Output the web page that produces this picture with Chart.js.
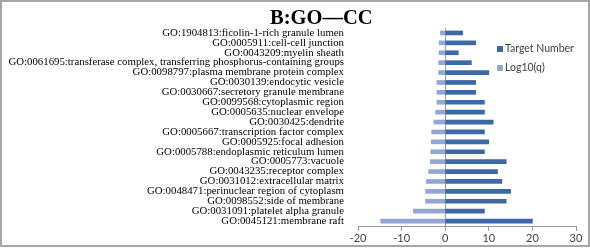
<!DOCTYPE html>
<html>
<head>
<meta charset="utf-8">
<script src="https://cdn.jsdelivr.net/npm/chart.js@4.4.1/dist/chart.umd.min.js"></script>
<style>
  html, body { margin: 0; padding: 0; background: #fff; }
  #wrap { width: 590px; height: 248px; position: relative; }
</style>
</head>
<body>
<div id="wrap"><canvas id="goChart"></canvas></div>
<script>
// termos GO (de cima para baixo)
const categories = [
    "GO:1904813:ficolin-1-rich granule lumen",
    "GO:0005911:cell-cell junction",
    "GO:0043209:myelin sheath",
    "GO:0061695:transferase complex, transferring phosphorus-containing groups",
    "GO:0098797:plasma membrane protein complex",
    "GO:0030139:endocytic vesicle",
    "GO:0030667:secretory granule membrane",
    "GO:0099568:cytoplasmic region",
    "GO:0005635:nuclear envelope",
    "GO:0030425:dendrite",
    "GO:0005667:transcription factor complex",
    "GO:0005925:focal adhesion",
    "GO:0005788:endoplasmic reticulum lumen",
    "GO:0005773:vacuole",
    "GO:0043235:receptor complex",
    "GO:0031012:extracellular matrix",
    "GO:0048471:perinuclear region of cytoplasm",
    "GO:0098552:side of membrane",
    "GO:0031091:platelet alpha granule",
    "GO:0045121:membrane raft"
];

const targetNumber = [4, 7, 3, 6, 10, 7, 7, 9, 9, 11, 9, 10, 9, 14, 12, 13, 15, 14, 9, 20];
const log10q = [-1.1, -1.4, -1.4, -1.5, -1.5, -1.9, -1.9, -1.9, -2.2, -2.6, -3.1, -3.2, -3.3, -3.4, -3.8, -4.3, -4.5, -4.5, -7.3, -14.8];

const xTicks = [-20, -10, 0, 10, 20, 30];

const darkBlue = 'rgb(60, 104, 166)';
const lightBlue = 'rgb(146, 167, 212)';

// título, legenda e moldura desenhados à mão
const decorPlugin = {
    id: 'decor',
    afterDraw(chart) {
        const ctx = chart.ctx;
        ctx.save();
        ctx.strokeStyle = '#a6a6a6';
        ctx.lineWidth = 2;
        ctx.strokeRect(1, 1, 588, 245);

        ctx.fillStyle = '#000';
        ctx.font = 'bold 20.5px "Liberation Serif", "Times New Roman", serif';
        ctx.textAlign = 'left';
        ctx.textBaseline = 'alphabetic';
        ctx.fillText('B:GO\u2014CC', 270, 24);

        const items = chart.data.datasets;
        ctx.font = '10.5px Lato, "Open Sans", sans-serif';
        ctx.textBaseline = 'middle';
        items.forEach((ds, i) => {
            const y = 49 + i * 19;
            ctx.fillStyle = ds.backgroundColor;
            ctx.fillRect(497, y - 3, 6, 6);
            ctx.fillStyle = '#404040';
            ctx.fillText(ds.label, 505, y);
        });
        ctx.restore();
    }
};

const ctx = document.getElementById('goChart').getContext('2d');
new Chart(ctx, {
    type: 'bar',
    data: {
        labels: categories,
        datasets: [
            { label: 'Target Number', data: targetNumber, backgroundColor: darkBlue, barThickness: 4 },
            { label: 'Log10(q)', data: log10q, backgroundColor: lightBlue, barThickness: 4 }
        ]
    },
    options: {
        indexAxis: 'y',
        responsive: true,
        maintainAspectRatio: false,
        animation: false,
        layout: { padding: { top: 28, right: 14, left: 0, bottom: 0 } },
        plugins: {
            legend: { display: false },
            title: { display: false },
            tooltip: { enabled: false }
        },
        scales: {
            x: {
                stacked: true,
                min: -20,
                max: 30,
                afterBuildTicks(scale) {
                    scale.ticks = xTicks.map(v => ({ value: v }));
                },
                afterFit(scale) { scale.height = 22; },
                grid: {
                    color: c => (c.tick && c.tick.value === 0) ? '#9a9a9a' : 'rgba(0,0,0,0)',
                    tickColor: '#9a9a9a',
                    tickLength: 5,
                    drawOnChartArea: true
                },
                border: { display: true, color: '#9a9a9a' },
                ticks: {
                    color: '#404040',
                    padding: 1,
                    font: { family: 'Lato, "Open Sans", sans-serif', size: 11 }
                }
            },
            y: {
                stacked: true,
                afterFit(scale) { scale.width = 358; },
                grid: { display: false },
                border: { display: false },
                ticks: {
                    color: '#000',
                    padding: 6,
                    autoSkip: false,
                    font: { family: '"Liberation Serif", "Times New Roman", serif', size: 10.8, lineHeight: 1 }
                }
            }
        }
    },
    plugins: [decorPlugin]
});
</script>
</body>
</html>
